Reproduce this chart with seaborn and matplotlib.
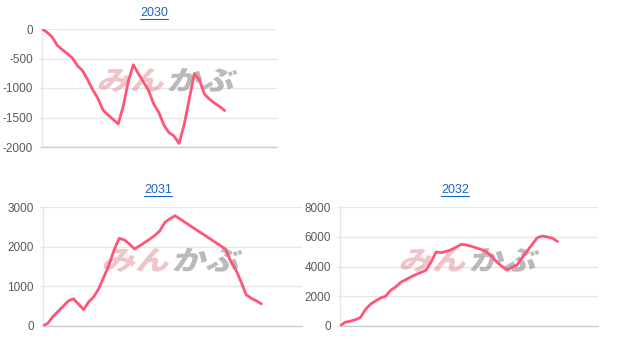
import numpy as np
import pandas as pd
import matplotlib
matplotlib.use("Agg")
import matplotlib.pyplot as plt
from matplotlib.lines import Line2D
from matplotlib.textpath import TextPath
from matplotlib.patches import PathPatch
from matplotlib.font_manager import FontProperties
from matplotlib.transforms import Affine2D, IdentityTransform
import seaborn as sns

# ---- data ----
titles = ["2030", "2031", "2032"]

values_2030 = [0, -57, -136, -278, -351, -419, -493, -623, -708, -861,
               -1031, -1173, -1371, -1456, -1530, -1609, -1314, -890, -606, -759,
               -901, -1042, -1269, -1411, -1626, -1756, -1813, -1940, -1626, -1195,
               -760, -861, -1105, -1190, -1258, -1314, -1382]

values_2031 = [0, 76, 245, 372, 499, 634, 685, 549, 414, 608,
               735, 946, 1242, 1538, 1918, 2210, 2172, 2070, 1943, 2020,
               2104, 2189, 2282, 2400, 2611, 2704, 2780, 2696, 2611, 2527,
               2442, 2358, 2273, 2189, 2104, 2020, 1930, 1623, 1411, 1115,
               790, 700, 634, 560]

values_2032 = [0, 250, 320, 420, 560, 1098, 1457, 1681, 1880, 2000,
               2400, 2620, 2936, 3115, 3300, 3460, 3600, 3750, 4303, 4975,
               4930, 5020, 5132, 5311, 5490, 5445, 5356, 5244, 5132, 4975,
               4683, 4303, 4011, 3760, 3950, 4100, 4594, 5042, 5490, 5938,
               6050, 5983, 5900, 5680]

yticks_2030 = [0, -500, -1000, -1500, -2000]
yticks_2031 = [0, 1000, 2000, 3000]
yticks_2032 = [0, 2000, 4000, 6000, 8000]

LINE = "#ff5577"
GRID = "#e6e6e6"

sns.set_theme(style="white")
plt.rcParams['font.family'] = ['Liberation Sans', 'Noto Sans CJK JP', 'DejaVu Sans']

W, H = 638, 356
fig = plt.figure(figsize=(W / 100, H / 100), dpi=100)


def px_axes(x0, x1, ytop, ybot):
    return fig.add_axes([x0 / W, 1 - ybot / H, (x1 - x0) / W, (ybot - ytop) / H])


panels = [
    (values_2030, yticks_2030, (-2000, 0), px_axes(42, 277, 29, 147), 46.3),
    (values_2031, yticks_2031, (0, 3000), px_axes(43, 302, 207, 326), 51.0),
    (values_2032, yticks_2032, (0, 8000), px_axes(340, 598, 207, 326), 51.0),
]

wm_prop = FontProperties(family='Noto Sans CJK JP', weight='heavy')


def watermark(ax, cx, cy):
    # cx, cy: centre in figure pixels from top-left
    cy = H - cy
    size = 30
    base = Affine2D().scale(1.12, 0.9).skew_deg(14, 0)
    p1 = base.transform_path(TextPath((0, 0), "みん", size=size, prop=wm_prop))
    p2 = base.transform_path(TextPath((0, 0), "かぶ", size=size, prop=wm_prop))
    e1 = p1.get_extents()
    e2 = p2.get_extents()
    gap = 4
    total = e1.width + gap + e2.width
    hgt = max(e1.y1, e2.y1) - min(e1.y0, e2.y0)
    x0 = cx - total / 2
    y0 = cy - hgt / 2 - min(e1.y0, e2.y0)
    q1 = Affine2D().translate(x0 - e1.x0, y0).transform_path(p1)
    q2 = Affine2D().translate(x0 + e1.width + gap - e2.x0, y0).transform_path(p2)
    ax.add_artist(PathPatch(q1, transform=IdentityTransform(),
                            facecolor="#e58a96", edgecolor="none", alpha=0.5, zorder=1))
    ax.add_artist(PathPatch(q2, transform=IdentityTransform(),
                            facecolor="#8c8c8c", edgecolor="none", alpha=0.6, zorder=1))


wm_pos = [(168, 80), (173, 260), (470, 260)]

for (vals, ticks, ylim, ax, xmax), (wx, wy) in zip(panels, wm_pos):
    df = pd.DataFrame({"x": np.arange(len(vals)), "y": vals})
    sns.lineplot(data=df, x="x", y="y", ax=ax, color=LINE, linewidth=2.0, zorder=3)
    ax.set_xlim(0, xmax)
    ax.set_ylim(*ylim)
    ax.set_yticks(ticks)
    ax.set_yticklabels([str(t) for t in ticks])
    ax.set_xticks([])
    ax.set_xlabel("")
    ax.set_ylabel("")
    ax.grid(axis="y", color=GRID, linewidth=1.0, zorder=0)
    ax.grid(axis="x", visible=False)
    for s in ["top", "right"]:
        ax.spines[s].set_visible(False)
    ax.spines["left"].set_color(GRID)
    ax.spines["left"].set_linewidth(1.0)
    ax.spines["bottom"].set_color("#cccccc")
    ax.spines["bottom"].set_linewidth(1.0)
    ax.tick_params(axis="y", left=True, length=2.5, width=1.0, color=GRID,
                   pad=4, labelsize=8.5, labelcolor="#5a5a5a")
    watermark(ax, wx, wy)

# titles (blue, underlined)
title_pos = [(154, 13), (158, 190), (455, 190)]
title_objs = []
for t, (x, y) in zip(titles, title_pos):
    title_objs.append(fig.text(x / W, 1 - y / H, t, ha="center", va="center",
                               fontsize=9, color="#1a66cc"))
fig.canvas.draw()
for tobj in title_objs:
    bb = tobj.get_window_extent()
    yline = bb.y0 + 0.5
    fig.add_artist(Line2D([bb.x0 / W, bb.x1 / W], [yline / H, yline / H],
                          transform=fig.transFigure, color="#1a66cc", linewidth=0.8))

fig.savefig("out.png", dpi=100)
